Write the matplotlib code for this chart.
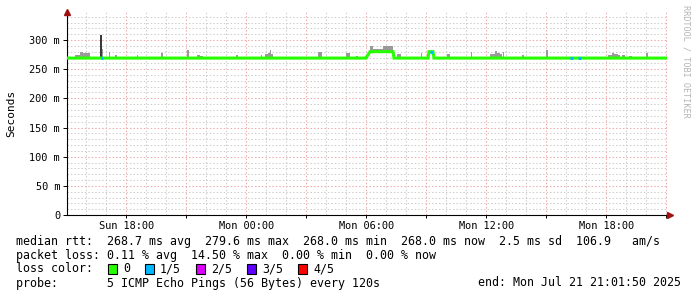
import matplotlib
matplotlib.use("Agg")
import matplotlib.pyplot as plt
import matplotlib.dates as mdates
from matplotlib.ticker import MultipleLocator, FixedLocator, FuncFormatter
from matplotlib.patches import Rectangle
import numpy as np
import datetime as dt

plt.rcParams['font.family'] = ['DejaVu Sans Mono', 'DejaVu Sans']
plt.rcParams['lines.scale_dashes'] = False

# ---------------- data ----------------
START = dt.datetime(2025, 7, 20, 15, 1, 50)
SPAN_H = 30.0

# median rtt (ms) at hour offsets from START
med_h = [0.0, 14.95, 15.15, 16.30, 16.35, 18.05, 18.10, 18.30, 18.35, 30.0]
med_ms = [269, 269, 280, 280, 269, 269, 280, 280, 269, 269]

# smoke (ping spread) : start hour, end hour, max ms
smoke_start = [0.40, 0.65, 0.80, 1.70, 2.075, 2.40, 3.50, 4.70, 6.00, 6.50, 6.65, 7.275,
               8.45, 9.725, 9.90, 10.05, 10.15, 10.20, 11.125, 12.125, 12.55, 13.95, 14.45,
               15.15, 15.30, 15.80, 16.50, 17.075, 17.725, 19.00, 20.225, 21.15, 21.40,
               21.50, 21.65, 21.825, 22.75, 23.95, 25.075, 26.525, 27.05, 27.25, 27.35,
               27.55, 27.75, 28.10, 28.95, 29.775]
smoke_end = [0.65, 0.80, 1.15, 1.80, 2.15, 2.50, 3.55, 4.80, 6.10, 6.65, 6.80, 7.325,
             8.55, 9.775, 10.05, 10.15, 10.20, 10.30, 11.175, 12.175, 12.75, 14.15, 14.55,
             15.30, 15.80, 16.30, 16.70, 17.125, 17.775, 19.15, 20.275, 21.40, 21.50,
             21.65, 21.75, 21.875, 22.85, 24.05, 25.125, 26.575, 27.25, 27.35, 27.55,
             27.65, 27.90, 28.25, 29.05, 29.825]
smoke_top = [274, 279, 277, 284, 279, 274, 275, 278, 283, 275, 273, 283,
             275, 274, 276, 278, 282, 276, 278, 272, 280, 278, 273,
             290, 284, 290, 276, 271, 278, 276, 280, 276, 281,
             278, 276, 280, 275, 283, 279, 280, 275, 278, 276,
             274, 275, 272, 278, 274]

# dark spike
spike_start = [1.66]
spike_end = [1.73]
spike_top = [309]

# packet loss segments on the median line (1/5 loss)
loss_start = [1.70, 18.15, 25.15, 25.55]
loss_end = [1.78, 18.30, 25.30, 25.70]

loss_labels = ['0', '1/5', '2/5', '3/5', '4/5']
loss_colors = ['#26ff00', '#00b8ff', '#dd00ff', '#5e00ff', '#ff0000']

y_ticks_ms = [0, 50, 100, 150, 200, 250, 300]

legend_lines = [
    "median rtt:  268.7 ms avg  279.6 ms max  268.0 ms min  268.0 ms now  2.5 ms sd  106.9   am/s",
    "packet loss: 0.11 % avg  14.50 % max  0.00 % min  0.00 % now",
    "loss color:",
    "probe:       5 ICMP Echo Pings (56 Bytes) every 120s",
]
end_text = "end: Mon Jul 21 21:01:50 2025"


def tnum(hours):
    return mdates.date2num([START + dt.timedelta(hours=float(h)) for h in hours])


# ---------------- figure ----------------
W, H = 697, 297
fig = plt.figure(figsize=(W / 100, H / 100), dpi=100, facecolor='white')
ax = fig.add_axes([67 / W, 1 - 215 / H, 600 / W, 203 / H])
ax.set_facecolor('white')

x0, x1 = tnum([0, SPAN_H])
ax.set_xlim(x0, x1)
ax.set_ylim(0, 348)

# grid
ax.yaxis.set_major_locator(FixedLocator(y_ticks_ms))
ax.yaxis.set_minor_locator(MultipleLocator(10))
ax.xaxis.set_major_locator(mdates.HourLocator(byhour=range(0, 24, 3)))
ax.xaxis.set_minor_locator(mdates.HourLocator(interval=1))


def xfmt(v, p):
    d = mdates.num2date(v)
    return d.strftime('%a %H:%M') if d.hour % 6 == 0 else ''


ax.xaxis.set_major_formatter(FuncFormatter(xfmt))
ax.yaxis.set_major_formatter(FuncFormatter(lambda v, p: '0' if v == 0 else f'{int(v)} m'))

ax.grid(which='minor', color='#cccccc', linestyle=(0, (1.0, 1.5)), linewidth=0.75)
ax.grid(which='major', color='#f0a8a8', linestyle=(0, (1.0, 1.5)), linewidth=0.75)
ax.set_axisbelow(True)

ax.tick_params(axis='both', which='minor', length=0)
ax.tick_params(axis='y', which='major', direction='out', length=3, width=0.7, pad=2,
               labelsize=7.4, colors='black')
ax.tick_params(axis='x', which='major', direction='out', length=2, width=0.7, pad=2.5,
               labelsize=7.4)

for s in ['top', 'right']:
    ax.spines[s].set_visible(False)
for s in ['left', 'bottom']:
    ax.spines[s].set_linewidth(0.8)
    ax.spines[s].set_color('black')

# smoke
mt = tnum(med_h)
ss = tnum(smoke_start)
se = tnum(smoke_end)
base = np.interp(ss, mt, med_ms)
ax.bar(ss, np.array(smoke_top) - base, width=se - ss, bottom=base, align='edge',
       color='#9a9a9a', linewidth=0, zorder=3)
ps = tnum(spike_start)
pe = tnum(spike_end)
pbase = np.interp(ps, mt, med_ms)
ax.bar(ps, np.array(spike_top) - pbase, width=pe - ps, bottom=pbase, align='edge',
       color='#3a3a3a', linewidth=0, zorder=3)

# median line
ax.plot(mt, med_ms, color=loss_colors[0], linewidth=2.2, solid_capstyle='butt',
        solid_joinstyle='miter', zorder=4)
for a, b in zip(loss_start, loss_end):
    xs = tnum([a, b])
    ys = np.interp(xs, mt, med_ms)
    ax.plot(xs, ys, color=loss_colors[1], linewidth=2.2, solid_capstyle='butt', zorder=5)

# axis arrows
ax.plot([0], [1.0], marker='^', color='#a01010', markersize=4, transform=ax.transAxes,
        clip_on=False, zorder=6)
ax.plot([1.005], [0], marker='>', color='#a01010', markersize=4, transform=ax.transAxes,
        clip_on=False, zorder=6)

ax.set_ylabel('Seconds', fontsize=8)
ax.yaxis.set_label_coords(-(67 - 16) / 600, 0.5)

# watermark
fig.text(686 / W, 1 - 5 / H, 'RRDTOOL / TOBI OETIKER', rotation=270, fontsize=6.1,
         color='#b4b4b4', ha='center', va='top')

# legend text
fs = 8.4
rows_y = [241, 255, 269, 283]
for txt, yy in zip(legend_lines, rows_y):
    fig.text(16 / W, 1 - yy / H, txt, fontsize=fs, ha='left', va='center')
fig.text(681 / W, 1 - rows_y[3] / H, end_text, fontsize=fs, ha='right', va='center')

box_x = [108, 145, 196, 247, 298]
for bx, lab, col in zip(box_x, loss_labels, loss_colors):
    fig.patches.append(Rectangle((bx / W, 1 - (rows_y[2] + 5) / H), 9 / W, 10 / H,
                                 transform=fig.transFigure, facecolor=col,
                                 edgecolor='black', linewidth=0.8))
    fig.text((bx + 15) / W, 1 - rows_y[2] / H, lab, fontsize=fs, ha='left', va='center')

fig.savefig('out.png', dpi=100, facecolor='white')
